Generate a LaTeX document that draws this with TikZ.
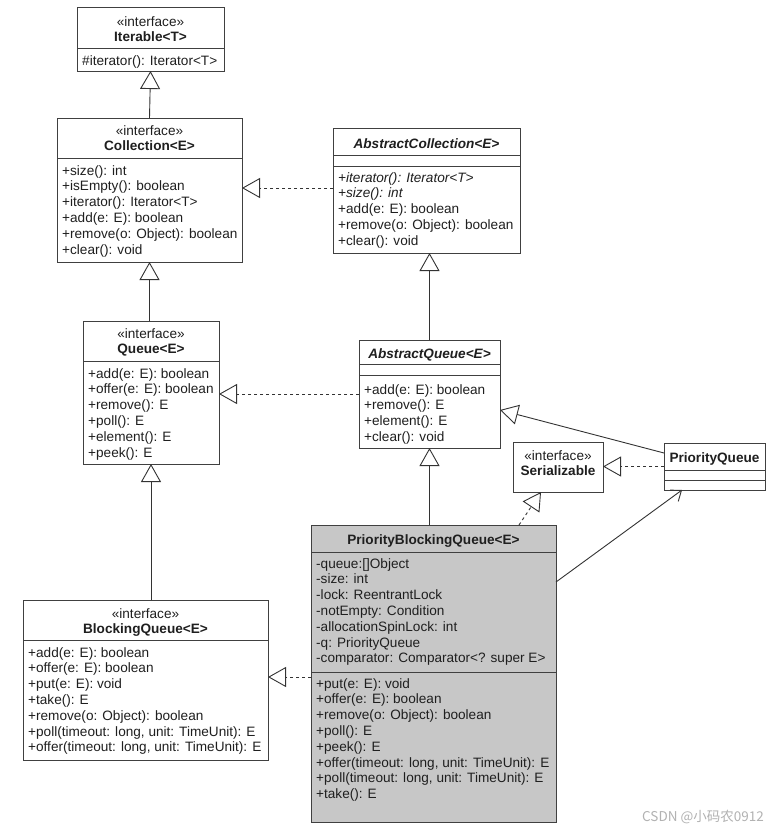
\documentclass[tikz,border=0pt]{standalone}
\usepackage{fontspec}
\setmainfont{Liberation Sans}
\newfontfamily\cjk{Noto Sans CJK SC}
\usetikzlibrary{arrows.meta,calc}
\begin{document}
\begin{tikzpicture}[x=1pt,y=-1pt,
  box/.style={draw=black!75, line width=0.9pt, anchor=north west, inner sep=0pt, outer sep=0pt},
  pbqbox/.style={box, fill=black!22},
  div/.style={draw=black!75, line width=0.9pt},
  mem/.style={anchor=base west, align=left, inner sep=0pt, text=black!88, font=\fontsize{13.6}{15.8}\selectfont},
  ttl/.style={anchor=base, align=center, inner sep=0pt, text=black!88, font=\fontsize{13.6}{15}\selectfont},
  gen/.style={-{Triangle[open, length=18pt, width=20pt]}, line width=0.9pt, draw=black!80},
  real/.style={gen, dash pattern=on 3pt off 3pt},
  assoc/.style={-{Straight Barb[length=9pt, width=14pt]}, line width=0.9pt, draw=black!80}
]
\useasboundingbox (0,0) rectangle (782,835);
\fill[white] (0,0) rectangle (782,835);

% Iterable
\node[box, minimum width=147pt, minimum height=64pt] (iter) at (77,7) {};
\draw[div] ($(iter.north west)+(0,41)$) -- ($(iter.north east)+(0,41)$);
\node[ttl] (itert) at ($(iter.north)+(0,34)$) {«interface»\\\textbf{Iterable<T>}};
\node[mem] (iterm) at ($(iter.north west)+(5,58)$) {\#iterator(): Iterator<T>};

% Collection
\node[box, minimum width=185pt, minimum height=144pt] (coll) at (57,118) {};
\draw[div] ($(coll.north west)+(0,40)$) -- ($(coll.north east)+(0,40)$);
\node[ttl] (collt) at ($(coll.north)+(0,32)$) {«interface»\\\textbf{Collection<E>}};
\node[mem] (collm) at ($(coll.north west)+(5,136)$) {+size(): int\\+isEmpty(): boolean\\+iterator(): Iterator<T>\\+add(e: E): boolean\\+remove(o: Object): boolean\\+clear(): void};

% AbstractCollection
\node[box, minimum width=187pt, minimum height=125pt] (acoll) at (333,128) {};
\draw[div] ($(acoll.north west)+(0,27)$) -- ($(acoll.north east)+(0,27)$);
\draw[div] ($(acoll.north west)+(0,38)$) -- ($(acoll.north east)+(0,38)$);
\node[ttl] (acollt) at ($(acoll.north)+(0,20)$) {\textbf{\textit{AbstractCollection<E>}}};
\node[mem] (acollm) at ($(acoll.north west)+(5,117.2)$) {\textit{+iterator(): Iterator<T>}\\\textit{+size(): int}\\+add(e: E): boolean\\+remove(o: Object): boolean\\+clear(): void};

% Queue
\node[box, minimum width=136pt, minimum height=143pt] (queue) at (83,321) {};
\draw[div] ($(queue.north west)+(0,40)$) -- ($(queue.north east)+(0,40)$);
\node[ttl] (queuet) at ($(queue.north)+(0,32)$) {«interface»\\\textbf{Queue<E>}};
\node[mem] (queuem) at ($(queue.north west)+(5,136)$) {+add(e: E): boolean\\+offer(e: E): boolean\\+remove(): E\\+poll(): E\\+element(): E\\+peek(): E};

% AbstractQueue
\node[box, minimum width=141pt, minimum height=108pt] (aq) at (359,340) {};
\draw[div] ($(aq.north west)+(0,24)$) -- ($(aq.north east)+(0,24)$);
\draw[div] ($(aq.north west)+(0,35)$) -- ($(aq.north east)+(0,35)$);
\node[ttl] (aqt) at ($(aq.north)+(0,18)$) {\textbf{\textit{AbstractQueue<E>}}};
\node[mem] (aqm) at ($(aq.north west)+(5,101.4)$) {+add(e: E): boolean\\+remove(): E\\+element(): E\\+clear(): void};

% Serializable
\node[box, minimum width=90pt, minimum height=50pt] (ser) at (513,442) {};
\node[ttl] (sert) at ($(ser.north)+(0,33)$) {«interface»\\\textbf{Serializable}};

% PriorityQueue
\node[box, minimum width=101pt, minimum height=47pt] (pq) at (664,443) {};
\draw[div] ($(pq.north west)+(0,27)$) -- ($(pq.north east)+(0,27)$);
\draw[div] ($(pq.north west)+(0,37)$) -- ($(pq.north east)+(0,37)$);
\node[ttl] (pqt) at ($(pq.north)+(0,19)$) {\textbf{PriorityQueue}};

% PriorityBlockingQueue
\node[pbqbox, minimum width=245pt, minimum height=297pt] (pbq) at (311,525) {};
\draw[div] ($(pbq.north west)+(0,27)$) -- ($(pbq.north east)+(0,27)$);
\draw[div] ($(pbq.north west)+(0,147)$) -- ($(pbq.north east)+(0,147)$);
\node[ttl] (pbqt) at ($(pbq.north)+(0,19)$) {\textbf{PriorityBlockingQueue<E>}};
\node[mem] (pbqa) at ($(pbq.north west)+(5,137.8)$) {-queue:[]Object\\-size: int\\-lock: ReentrantLock\\-notEmpty: Condition\\-allocationSpinLock: int\\-q: PriorityQueue\\-comparator: Comparator<? super E>};
\node[mem] (pbqm) at ($(pbq.north west)+(5,273.6)$) {+put(e: E): void\\+offer(e: E): boolean\\+remove(o: Object): boolean\\+poll(): E\\+peek(): E\\+offer(timeout: long, unit: TimeUnit): E\\+poll(timeout: long, unit: TimeUnit): E\\+take(): E};

% BlockingQueue
\node[box, minimum width=245pt, minimum height=160pt] (bq) at (23,600) {};
\draw[div] ($(bq.north west)+(0,40)$) -- ($(bq.north east)+(0,40)$);
\node[ttl] (bqt) at ($(bq.north)+(0,33)$) {«interface»\\\textbf{BlockingQueue<E>}};
\node[mem] (bqm) at ($(bq.north west)+(5,151.8)$) {+add(e: E): boolean\\+offer(e: E): boolean\\+put(e: E): void\\+take(): E\\+remove(o: Object): boolean\\+poll(timeout: long, unit: TimeUnit): E\\+offer(timeout: long, unit: TimeUnit): E};

% connectors
\coordinate (a1) at ($(acoll.north west)+(0,60)$);
\coordinate (pqA) at ($(pq.north west)+(0,10)$);
\coordinate (aqB) at ($(aq.north east)+(0,70)$);
\coordinate (pbqS) at ($(pbq.north west)+(208,0)$);
\coordinate (serS) at ($(ser.south west)+(28,0)$);
\coordinate (pbqR) at ($(pbq.north east)+(0,57)$);
\coordinate (pqB) at ($(pq.south west)+(18,0)$);
\coordinate (pbqL) at ($(pbq.north west)+(0,152)$);

\draw[gen] (coll.north) -- (iter.south);
\draw[gen] (coll.south |- queue.north) -- (coll.south);
\draw[gen] (queue.south |- bq.north) -- (queue.south);
\draw[real] (a1) -- (a1 -| coll.east);
\draw[gen] (aq.north) -- (aq.north |- acoll.south);
\draw[real] (aq.west) -- (aq.west -| queue.east);
\draw[gen] (aq.south |- pbq.north) -- (aq.south);
\draw[gen] (pqA) -- (aqB);
\draw[real] (pq.west) -- (pq.west -| ser.east);
\draw[real] (pbqS) -- (serS);
\draw[assoc] (pbqR) -- (pqB);
\draw[real] (pbqL) -- (pbqL -| bq.east);

% watermark
\node[anchor=base west, inner sep=0pt, text=black!30, font=\cjk\fontsize{13.5}{15}\selectfont] (wm) at (642,821) {CSDN @小码农0912};
\end{tikzpicture}
\end{document}
